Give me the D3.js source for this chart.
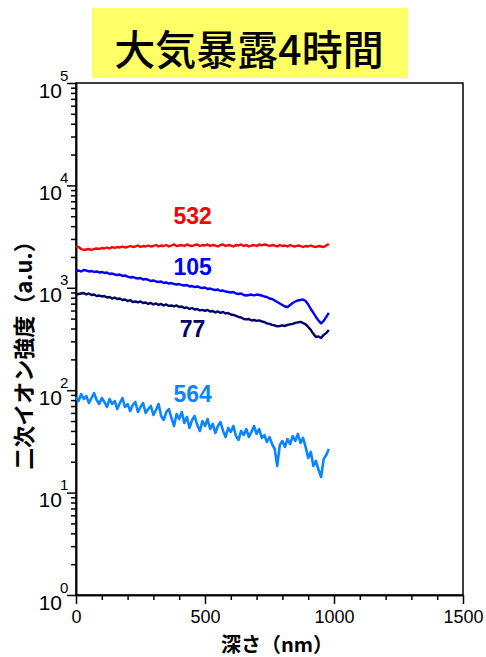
<!DOCTYPE html>
<html>
<head>
<meta charset="utf-8">
<script src="https://cdn.jsdelivr.net/npm/d3@7/dist/d3.min.js"></script>
<style>
  body { margin: 0; background: #fff; }
  svg { display: block; }
  .axis path, .axis line { stroke: #000; stroke-width: 1.5; }
  .axis text { font-family: "Liberation Sans", Arial, sans-serif; font-size: 18px; fill: #000; }
  .axis text.ylab { font-size: 21px; }
  .axis text.yexp { font-size: 15px; }
  .jp { font-family: "Noto Sans CJK JP", sans-serif; }
  .series-label { font-family: "Liberation Sans", Arial, sans-serif; font-weight: bold; font-size: 23px; }
</style>
</head>
<body>
<svg id="chart" width="486" height="657"></svg>
<script>
// depth (nm)
var depth = [0, 10, 20, 30, 40, 50, 60, 70, 80, 90, 100, 110, 120, 130, 140, 150, 160, 170, 180, 190,
  200, 210, 220, 230, 240, 250, 260, 270, 280, 290, 300, 310, 320, 330, 340, 350, 360, 370, 380, 390,
  400, 410, 420, 430, 440, 450, 460, 470, 480, 490, 500, 510, 520, 530, 540, 550, 560, 570, 580, 590,
  600, 610, 620, 630, 640, 650, 660, 670, 680, 690, 700, 710, 720, 730, 740, 750, 760, 770, 780, 790,
  800, 810, 820, 830, 840, 850, 860, 870, 880, 890, 900, 910, 920, 930, 940, 950, 960, 970, 980];

// secondary ion intensity (a.u.), one list per mass
var ion532 = [2531, 2503, 2393, 2340, 2366, 2393, 2340, 2393, 2420, 2393, 2447, 2420, 2475, 2420, 2503, 2447, 2503, 2475, 2531, 2475,
  2503, 2560, 2503, 2531, 2589, 2503, 2560, 2531, 2589, 2531, 2560, 2618, 2531, 2589, 2560, 2618, 2531, 2589, 2648, 2560,
  2589, 2618, 2560, 2648, 2589, 2560, 2618, 2648, 2560, 2618, 2589, 2648, 2560, 2618, 2589, 2531, 2618, 2648, 2560, 2618,
  2589, 2531, 2618, 2589, 2648, 2560, 2618, 2531, 2589, 2618, 2560, 2648, 2589, 2648, 2618, 2560, 2618, 2589, 2531, 2618,
  2560, 2589, 2531, 2618, 2560, 2531, 2589, 2560, 2503, 2560, 2531, 2589, 2531, 2503, 2560, 2531, 2503, 2589, 2678];

var ion105 = [1459, 1475, 1443, 1492, 1475, 1443, 1459, 1427, 1443, 1411, 1427, 1395, 1411, 1364, 1379, 1349, 1334, 1349, 1304, 1319,
  1289, 1261, 1275, 1247, 1233, 1247, 1205, 1219, 1192, 1165, 1179, 1152, 1139, 1152, 1114, 1127, 1101, 1114, 1089, 1077,
  1089, 1065, 1053, 1065, 1030, 1041, 1018, 1030, 1007, 996, 1007, 973, 984, 963, 952, 963, 931, 941, 920, 910,
  900, 910, 880, 870, 880, 851, 841, 851, 860, 841, 860, 851, 841, 823, 813, 786, 778, 752, 727, 703,
  680, 657, 650, 680, 711, 735, 752, 760, 769, 743, 687, 621, 568, 519, 480, 449, 475, 519, 568];

var ion77 = [851, 870, 880, 890, 860, 880, 851, 860, 832, 841, 823, 832, 804, 813, 786, 804, 778, 786, 760, 769,
  743, 760, 727, 735, 719, 735, 711, 719, 695, 711, 687, 703, 680, 695, 672, 687, 665, 672, 657, 672,
  650, 657, 635, 643, 621, 635, 614, 621, 601, 608, 594, 608, 587, 594, 574, 587, 568, 581, 562, 568,
  549, 543, 531, 519, 513, 496, 491, 496, 480, 485, 475, 480, 469, 464, 449, 444, 434, 429, 420, 424,
  429, 424, 434, 439, 444, 454, 459, 464, 454, 439, 415, 388, 355, 331, 335, 324, 347, 362, 388];

var ion564 = [85.8, 78.4, 91.8, 82.0, 87.7, 75.0, 83.9, 93.8, 80.2, 73.3, 83.9, 76.7, 68.5, 82.0, 73.3, 78.4, 65.5, 75.0, 83.9, 68.5,
  73.3, 62.6, 71.7, 76.7, 61.2, 68.5, 75.0, 59.9, 65.5, 70.1, 57.3, 64.1, 73.3, 56.0, 51.2, 61.2, 65.5, 53.5, 44.7, 58.6,
  52.3, 61.2, 47.8, 54.8, 42.8, 51.2, 56.0, 45.7, 40.0, 50.0, 44.7, 52.3, 41.8, 46.8, 38.2, 44.7, 48.9, 40.0, 34.9, 42.8,
  39.1, 44.7, 35.7, 32.7, 40.0, 36.5, 41.8, 34.9, 39.1, 44.7, 37.4, 41.8, 34.2, 36.5, 31.2, 34.9, 29.8, 26.7, 18.2, 29.2,
  31.9, 27.9, 33.4, 29.8, 35.7, 31.9, 37.4, 30.5, 34.2, 27.9, 21.8, 25.0, 18.2, 20.4, 16.7, 14.2, 21.3, 23.3, 26.7];

var seriesNames = ["532", "105", "77", "564"];
var seriesColors = ["#ff0000", "#0000ff", "#000066", "#0a84ff"];
var seriesValues = [ion532, ion105, ion77, ion564];
// where each mass number is written (depth, intensity)
var labelDepth = [452, 452, 452, 452];
var labelValue = [4200, 1330, 330, 77];

var xTicks = [0, 500, 1000, 1500];
var xMinorTicks = [100, 200, 300, 400, 600, 700, 800, 900, 1100, 1200, 1300, 1400];
var yTicks = [1, 10, 100, 1000, 10000, 100000];
var yExponents = ["0", "1", "2", "3", "4", "5"];

var titleText = "大気暴露4時間";
var xTitle = "深さ（nm）";
var yTitle = "二次イオン強度（a.u.）";

var margin = { top: 83, right: 23, bottom: 62, left: 76 },
  width = 486 - margin.left - margin.right,
  height = 657 - margin.top - margin.bottom;

var svg = d3.select("#chart");

var x = d3.scaleLinear().domain([0, 1500]).range([margin.left, margin.left + width]);
var y = d3.scaleLog().domain([1, 1e5]).range([margin.top + height, margin.top]);

// title box
svg.append("rect")
  .attr("x", 92)
  .attr("y", 8)
  .attr("width", 316)
  .attr("height", 70)
  .attr("fill", "#ffff66");

svg.append("text")
  .attr("class", "jp")
  .attr("x", 249)
  .attr("y", 47)
  .attr("text-anchor", "middle")
  .attr("dominant-baseline", "central")
  .attr("font-size", 41)
  .attr("font-weight", 500)
  .text(titleText);

// minor ticks first, majors over them
svg.append("g")
  .attr("class", "axis")
  .attr("transform", "translate(0," + (margin.top + height) + ")")
  .call(d3.axisBottom(x).tickValues(xMinorTicks).tickSize(5).tickSizeOuter(0).tickFormat(""));

svg.append("g")
  .attr("class", "axis")
  .attr("transform", "translate(0," + (margin.top + height) + ")")
  .call(d3.axisBottom(x).tickValues(xTicks).tickSize(9).tickSizeOuter(0).tickPadding(6).tickFormat(d3.format("d")));

var yMinor = y.ticks().filter(function(v) { return yTicks.indexOf(v) < 0; });

svg.append("g")
  .attr("class", "axis")
  .attr("transform", "translate(" + margin.left + ",0)")
  .call(d3.axisLeft(y).tickValues(yMinor).tickSize(5).tickSizeOuter(0).tickFormat(""));

var yAxis = svg.append("g")
  .attr("class", "axis")
  .attr("transform", "translate(" + margin.left + ",0)")
  .call(d3.axisLeft(y).tickValues(yTicks).tickSize(9).tickSizeOuter(0).tickFormat(""));

// 10 with superscript exponent
yAxis.selectAll(".tick").each(function(d, i) {
  var g = d3.select(this);
  g.append("text")
    .attr("class", "ylab")
    .attr("x", -14)
    .attr("y", 14)
    .attr("text-anchor", "end")
    .text("10");
  g.append("text")
    .attr("class", "yexp")
    .attr("x", -16)
    .attr("y", -3)
    .attr("text-anchor", "start")
    .text(yExponents[i]);
});

// frame
svg.append("rect")
  .attr("x", margin.left)
  .attr("y", margin.top)
  .attr("width", width)
  .attr("height", height)
  .attr("fill", "none")
  .attr("stroke", "#000")
  .attr("stroke-width", 1.5);

// axis titles
svg.append("text")
  .attr("class", "jp")
  .attr("x", 277)
  .attr("y", 652)
  .attr("text-anchor", "middle")
  .attr("font-size", 20)
  .attr("font-weight", "bold")
  .text(xTitle);

svg.append("text")
  .attr("class", "jp")
  .attr("transform", "translate(32,350) rotate(-90)")
  .attr("text-anchor", "middle")
  .attr("font-size", 22)
  .attr("font-weight", "bold")
  .text(yTitle);

// data lines
var line = d3.line()
  .x(function(d) { return x(d[0]); })
  .y(function(d) { return y(d[1]); });

svg.append("g")
  .attr("fill", "none")
  .attr("stroke-linejoin", "round")
  .selectAll("path")
    .data(seriesValues)
    .enter().append("path")
      .attr("stroke", function(d, i) { return seriesColors[i]; })
      .attr("stroke-width", function(d, i) { return i === 3 ? 2.6 : 2.4; })
      .attr("d", function(d) { return line(d3.zip(depth, d)); });

svg.append("g")
  .selectAll("text")
    .data(seriesNames)
    .enter().append("text")
      .attr("class", "series-label")
      .attr("x", function(d, i) { return x(labelDepth[i]); })
      .attr("y", function(d, i) { return y(labelValue[i]); })
      .attr("text-anchor", "middle")
      .attr("fill", function(d, i) { return seriesColors[i]; })
      .text(function(d) { return d; });
</script>
</body>
</html>
